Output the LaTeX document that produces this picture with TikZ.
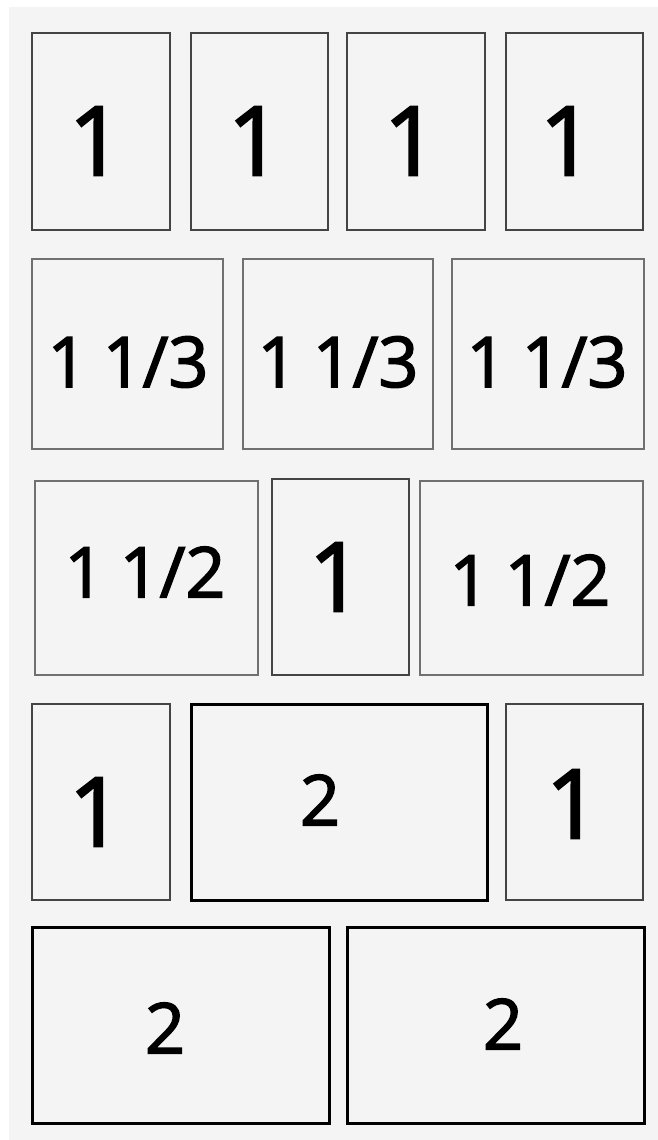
\documentclass[tikz,border=0pt]{standalone}
\usepackage{fontspec}
\newfontfamily\numfont[FakeBold=2.2]{Open Sans}
\definecolor{bgc}{HTML}{F4F4F4}
\definecolor{edA}{HTML}{444444}
\definecolor{edB}{HTML}{707070}
\tikzset{
  pagebox/.style={draw, rectangle, fill=bgc, inner sep=0pt, outer sep=0pt},
  boxmid/.style={pagebox, draw=edA, line width=2pt},
  boxthin/.style={pagebox, draw=edB, line width=1.5pt},
  boxbold/.style={pagebox, draw=black, line width=3pt},
  numbig/.style={inner sep=0pt, font=\numfont\fontsize{96}{96}\selectfont},
  numsmall/.style={inner sep=0pt, font=\numfont\fontsize{70}{70}\selectfont},
}
\newcommand\pbox[6]{\node[#6, minimum width={#4-#2}, minimum height={#5-#3}] (#1) at ({(#2+#4)/2},{(#3+#5)/2}) {};}
\newcommand\fr[2]{#1\hspace{-3pt} #2}
\begin{document}
\begin{tikzpicture}[x=1pt,y=-1pt]
\useasboundingbox (0,0) rectangle (658,1140);
\fill[white] (0,0) rectangle (658,1140);
\fill[bgc] (9,7) rectangle (658,1140);
% row 1
\pbox{b11}{32}{33}{170}{230}{boxmid}
\pbox{b12}{191}{33}{328}{230}{boxmid}
\pbox{b13}{347}{33}{485}{230}{boxmid}
\pbox{b14}{506}{33}{643}{230}{boxmid}
\node[numbig] (t11) at (96,141) {1};
\node[numbig] (t12) at (255,141) {1};
\node[numbig] (t13) at (411,141) {1};
\node[numbig] (t14) at (567,141) {1};
% row 2
\pbox{b21}{32}{259}{223}{449}{boxthin}
\pbox{b22}{243}{259}{433}{449}{boxthin}
\pbox{b23}{452}{259}{644}{449}{boxthin}
\node[numsmall] (t21) at (128,362) {\fr{1}{1/3}};
\node[numsmall] (t22) at (338,362) {\fr{1}{1/3}};
\node[numsmall] (t23) at (547,362) {\fr{1}{1/3}};
% row 3
\pbox{b31}{35}{481}{258}{675}{boxthin}
\pbox{b32}{272}{479}{409}{675}{boxmid}
\pbox{b33}{420}{481}{643}{675}{boxthin}
\node[numsmall] (t31) at (145,572) {\fr{1}{1/2}};
\node[numbig] (t32) at (336,577) {1};
\node[numsmall] (t33) at (530,580) {\fr{1}{1/2}};
% row 4
\pbox{b41}{32}{704}{170}{900}{boxmid}
\pbox{b42}{191}{704}{487}{900}{boxbold}
\pbox{b43}{506}{704}{643}{900}{boxmid}
\node[numbig] (t41) at (96,812) {1};
\node[numsmall] (t42) at (320,800) {2};
\node[numbig] (t43) at (573,804) {1};
% row 5
\pbox{b51}{32}{927}{329}{1123}{boxbold}
\pbox{b52}{347}{927}{644}{1123}{boxbold}
\node[numsmall] (t51) at (165,1028) {2};
\node[numsmall] (t52) at (503,1024) {2};
\end{tikzpicture}
\end{document}
